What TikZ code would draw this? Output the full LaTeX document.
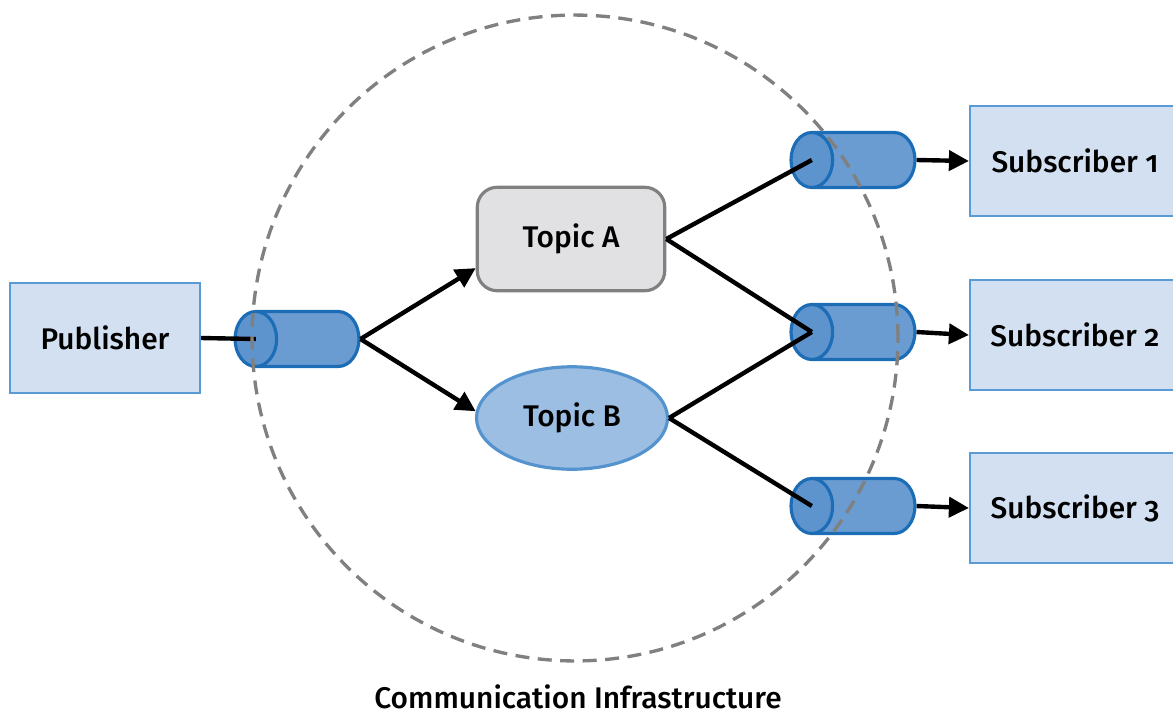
\documentclass[tikz,border=0pt]{standalone}
\usepackage{fontspec}
\setmainfont{Fira Sans}[UprightFont=* Medium, Numbers=OldStyle]
\usepackage{tikz}
\usetikzlibrary{shapes.geometric,arrows.meta,calc}

\definecolor{boxfill}{HTML}{D3E0F1}
\definecolor{boxline}{HTML}{5B9BD5}
\definecolor{pipebody}{HTML}{6A9BD1}
\definecolor{pipeend}{HTML}{5E94CE}
\definecolor{pipeline}{HTML}{1C6DB5}
\definecolor{topicgray}{HTML}{E1E1E3}
\definecolor{topicgrayline}{HTML}{808080}
\definecolor{topicblue}{HTML}{9DBEE3}
\definecolor{topicblueline}{HTML}{5593CE}
\definecolor{ringgray}{HTML}{808080}

\begin{document}
\begin{tikzpicture}[
  x=0.02cm, y=-0.02cm,
  font=\fontsize{17}{20}\selectfont,
  endpoint/.style={draw=boxline, line width=1.3pt, fill=boxfill, minimum height=2.2cm, align=center},
  topicbox/.style={draw=topicgrayline, line width=1.8pt, fill=topicgray, rounded corners=0.4cm, minimum width=3.75cm, minimum height=2.07cm},
  topicoval/.style={ellipse, draw=topicblueline, line width=1.8pt, fill=topicblue, inner sep=0pt, minimum width=3.82cm, minimum height=2.05cm},
  pipe/.style={cylinder, shape border rotate=180, aspect=0.8, draw=pipeline, line width=1.8pt,
    cylinder uses custom fill, cylinder body fill=pipebody, cylinder end fill=pipeend,
    minimum width=1.1cm, minimum height=2.48cm, inner xsep=0pt, inner ysep=0.52cm, anchor=shape center},
  ring/.style={circle, draw=ringgray, line width=1.9pt, dash pattern=on 0.28cm off 0.17cm, minimum size=12.92cm, inner sep=0pt},
  arr/.style={-{Triangle[length=4mm, width=4mm]}, line width=2.5pt},
  link/.style={line width=2.5pt}
]
\clip (0,0) rectangle (1173,714);

% end points
\node[endpoint, minimum width=3.8cm] (pub) at (105,338) {Publisher};
\node[endpoint, minimum width=4.2cm] (sub1) at (1075,161) {Subscriber 1};
\node[endpoint, minimum width=4.2cm] (sub2) at (1075,335) {Subscriber 2};
\node[endpoint, minimum width=4.2cm] (sub3) at (1075,508) {Subscriber 3};

% topics
\node[topicbox] (ta) at (571,239) {Topic A};
\node[topicoval] (tb) at (572,418) {Topic B};

% pipes
\node[pipe] (pubpipe) at (297,339) {};
\node[pipe] (pipe1) at (853,160) {};
\node[pipe] (pipe2) at (853,332) {};
\node[pipe] (pipe3) at (853,506) {};
\coordinate (pubface) at ($(pubpipe.before top)!.5!(pubpipe.after top)$);
\coordinate (face1) at ($(pipe1.before top)!.5!(pipe1.after top)$);
\coordinate (face2) at ($(pipe2.before top)!.5!(pipe2.after top)$);
\coordinate (face3) at ($(pipe3.before top)!.5!(pipe3.after top)$);

\draw[link] (pub.east) -- (pubface);
\draw[arr] (pubpipe.bottom) -- (ta.197);
\draw[arr] (pubpipe.bottom) -- (tb.176);
\draw[link] (ta.east) -- (face1);
\draw[link] (ta.east) -- (face2);
\draw[link] (tb.east) -- (face2);
\draw[link] (tb.east) -- (face3);
\draw[arr] (pipe1.bottom) -- (sub1.west);
\draw[arr] (pipe2.bottom) -- (sub2.west);
\draw[arr] (pipe3.bottom) -- (sub3.west);

% infrastructure ring
\node[ring] (infra) at (575,338) {};
\node (infralabel) at (578,697) {Communication Infrastructure};
\end{tikzpicture}
\end{document}
